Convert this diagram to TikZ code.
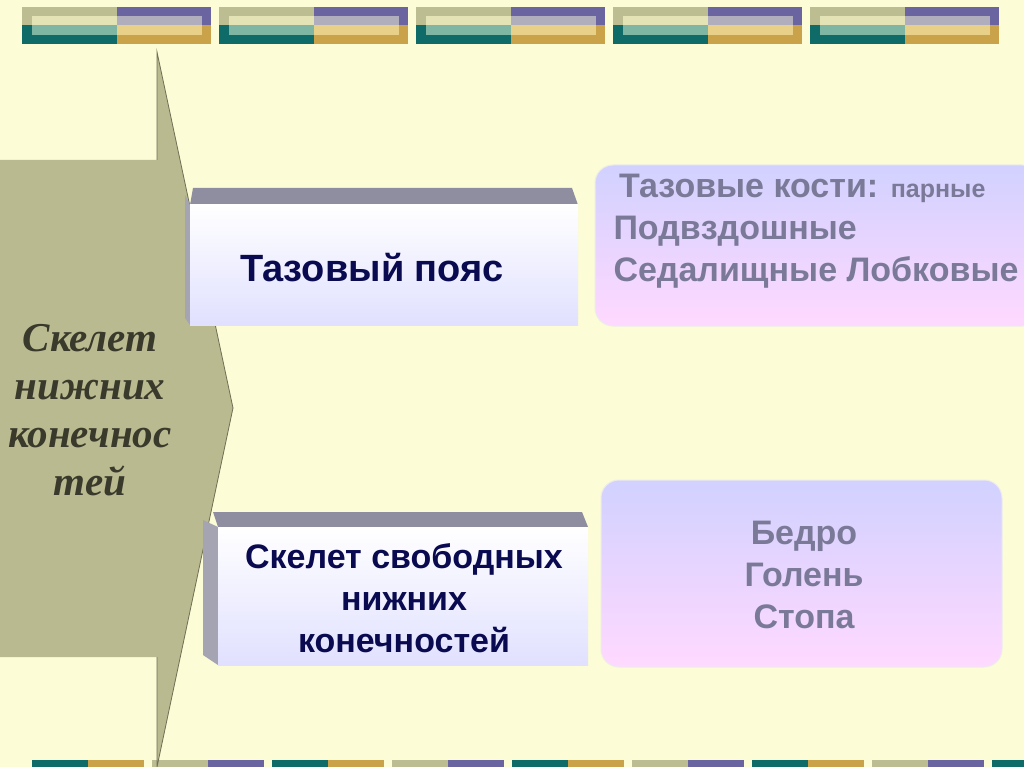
\documentclass[tikz,border=0pt]{standalone}
\usepackage{fontspec}
\setmainfont{Liberation Sans}
\newfontfamily\serifit{Liberation Serif}
\begin{document}
\begin{tikzpicture}[x=1pt,y=-1pt]
\definecolor{bg}{HTML}{FCFCD6}
\definecolor{olv}{HTML}{BDBD92}
\definecolor{prp}{HTML}{6A64A0}
\definecolor{tel}{HTML}{0F6B68}
\definecolor{gld}{HTML}{C9A24A}
\definecolor{olvL}{HTML}{E4E3B5}
\definecolor{prpL}{HTML}{B0ADBD}
\definecolor{telL}{HTML}{7FB5A3}
\definecolor{gldL}{HTML}{E8D089}
\definecolor{arrowc}{HTML}{B9BA8F}
\definecolor{txtb}{HTML}{0A0A50}
\definecolor{txtg}{HTML}{7A7A98}
\definecolor{face}{HTML}{8E8EA0}
\tikzset{
 lbl/.style={font=\bfseries\fontsize{34}{42}\selectfont, text=txtb, align=center},
 rlbl/.style={font=\bfseries\fontsize{34}{42}\selectfont, text=txtg, align=left},
 rbox/.style={rounded corners=18pt, draw=white!85!gray, line width=1pt, top color=blue!18!white, bottom color=magenta!15!white}
}
\fill[bg] (0,0) rectangle (1024,767);
\useasboundingbox (0,0) rectangle (1024,767);
% top bars
\foreach \x in {22,219,416,613,810}{
 \fill[olv] (\x,7) rectangle (\x+94.5,25.5);
 \fill[prp] (\x+94.5,7) rectangle (\x+189,25.5);
 \fill[tel] (\x,25.5) rectangle (\x+94.5,44);
 \fill[gld] (\x+94.5,25.5) rectangle (\x+189,44);
 \fill[olvL] (\x+10,16) rectangle (\x+94.5,25.5);
 \fill[prpL] (\x+94.5,16) rectangle (\x+180,25.5);
 \fill[telL] (\x+10,25.5) rectangle (\x+94.5,35);
 \fill[gldL] (\x+94.5,25.5) rectangle (\x+180,35);
}
% bottom bars
\foreach \x/\a/\b in {32/tel/gld,152/olv/prp,272/tel/gld,392/olv/prp,512/tel/gld,632/olv/prp,752/tel/gld,872/olv/prp,992/tel/gld}{
 \fill[\a] (\x,760) rectangle (\x+56,767);
 \fill[\b] (\x+56,760) rectangle (\x+112,767);
}
% left arrow
\fill[arrowc] (0,160) -- (157,160) -- (157,52) -- (233,408) -- (157,767) -- (157,657) -- (0,657) -- cycle;
\draw[arrowc!60!black, line width=0.8pt] (157,160) -- (157,52) -- (233,408) -- (157,767) -- (157,657);
\node[font=\serifit\bfseries\itshape\fontsize{41}{48}\selectfont, text=black!70!olv, align=center] (main) at (90,410) {Скелет\\нижних\\конечнос\\тей};
% box 1
\fill[face] (193,188) -- (572,188) -- (578,205) -- (190,205) -- cycle;
\fill[face!80!white] (185,195) -- (190,205) -- (190,325) -- (185,318) -- cycle;
\shade[top color=white, bottom color=blue!12!white] (190,205) rectangle (578,325);
\node[lbl, font=\bfseries\fontsize{38}{44}\selectfont] (b1) at (372,268) {Тазовый пояс};
% box 2
\fill[face] (213,512) -- (582,512) -- (588,527) -- (218,527) -- cycle;
\fill[face!80!white] (203,520) -- (218,527) -- (218,665) -- (203,655) -- cycle;
\shade[top color=white, bottom color=blue!12!white] (218,527) rectangle (588,665);
\node[lbl] (b2) at (404,598) {Скелет свободных\\нижних\\конечностей};
% right boxes
\path[rbox] (595,165) rectangle (1040,326);
\node[rlbl, anchor=north west] (r1) at (610,171) {\,Тазовые кости: {\fontsize{25}{30}\selectfont парные}\\Подвздошные\\Седалищные Лобковые};
\path[rbox] (601,480) rectangle (1002,667);
\node[rlbl, align=center] (r2) at (804,575) {Бедро\\Голень\\Стопа};
\end{tikzpicture}
\end{document}
